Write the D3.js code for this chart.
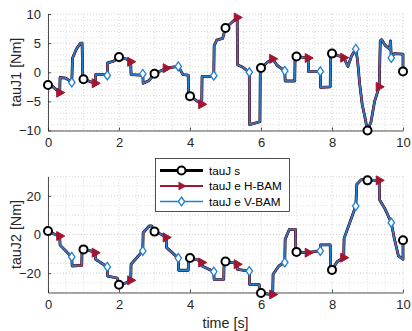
<!DOCTYPE html>
<html>
<head>
<meta charset="utf-8">
<script src="https://cdn.jsdelivr.net/npm/d3@7"></script>
<style>
  body { margin: 0; background: #fff; }
  svg { display: block; font-family: "Liberation Sans", Arial, sans-serif; }
</style>
</head>
<body>
<svg id="chart" width="412" height="331"></svg>
<script>
// joint 1 torque trace (time [s], torque [Nm])
const time1 = [0.00, 0.10, 0.33, 0.34, 0.50, 0.67, 0.69, 0.80, 0.92, 0.96, 0.98, 1.00, 1.33, 1.34, 1.60, 1.67, 1.68, 1.85, 2.00,
  2.20, 2.33, 2.34, 2.60, 2.67, 2.68, 2.85, 3.00, 3.33, 3.67, 3.80, 3.95, 3.96, 4.00, 4.33, 4.34, 4.55, 4.67, 4.68, 4.75, 4.92,
  5.00, 5.33, 5.34, 5.50, 5.67, 5.68, 5.97, 5.98, 6.00, 6.20, 6.33, 6.45, 6.67, 6.68, 6.95, 6.96, 7.00, 7.33, 7.34, 7.60, 7.67,
  7.68, 7.95, 7.96, 8.00, 8.20, 8.33, 8.45, 8.55, 8.67, 8.72, 8.78, 8.85, 8.93, 9.00, 9.10, 9.20, 9.33, 9.36, 9.40, 9.50, 9.62,
  9.65, 9.67, 9.75, 10.0, 10.0];
const tauJ1 = [-2.2, -2.3, -3.5, -0.9, -1.0, -1.75, 2.4, 4.0, 5.0, 5.0, -1.0, -1.2, -1.9, -0.4, -0.4, -0.55, 1.6, 1.9, 2.6,
  2.3, 1.8, -0.4, -0.5, -0.3, -1.9, -1.4, -0.25, 0.7, 1.0, -0.4, -0.5, -3.8, -4.1, -5.5, -0.7, -0.7, -0.6, 4.5, 5.5, 5.8,
  7.6, 9.4, 1.3, 0.8, 0.0, -9.0, -8.5, 0.8, 0.75, 1.8, 2.3, 1.2, 0.25, -1.5, -1.5, 2.7, 2.7, 2.45, 0.1, 0.1, 0.15,
  -2.6, -2.5, 3.2, 3.2, 2.8, 2.5, 1.0, 2.8, 4.0, 2.0, -2.0, -5.5, -7.8, -10.0, -8.5, -5.0, -2.5, 5.4, 5.6, 4.6, 4.0,
  5.4, 2.45, 3.2, 3.1, 0.15];

// joint 2 torque trace
const time2 = [0.00, 0.20, 0.33, 0.34, 0.67, 0.68, 0.95, 0.96, 1.00, 1.20, 1.33, 1.34, 1.67, 1.68, 1.95, 2.00, 2.20, 2.33, 2.34,
  2.67, 2.68, 2.85, 2.92, 3.00, 3.20, 3.33, 3.34, 3.67, 3.68, 3.95, 3.96, 4.00, 4.20, 4.33, 4.34, 4.67, 4.68, 4.95, 4.96, 5.00,
  5.20, 5.33, 5.34, 5.67, 5.68, 5.95, 5.97, 6.00, 6.20, 6.33, 6.34, 6.50, 6.67, 6.68, 6.80, 6.97, 6.98, 7.00, 7.20, 7.33, 7.50,
  7.67, 7.68, 7.95, 7.96, 8.00, 8.15, 8.33, 8.34, 8.67, 8.70, 8.83, 9.00, 9.33, 9.34, 9.50, 9.67, 9.75, 9.87, 10.0, 10.0];
const tauJ2 = [1.8, 0.0, -0.8, -5.5, -11.6, -16.3, -16.0, -7.5, -7.7, -8.5, -9.4, -12.8, -16.8, -21.5, -22.5, -26.0, -25.0, -23.7, -15.4,
  -8.5, 0.9, 4.4, 4.4, 1.5, 0.0, -1.5, -6.8, -12.2, -18.5, -18.5, -12.0, -12.2, -13.0, -14.5, -16.3, -19.2, -23.2, -23.2, -13.5, -14.0,
  -14.5, -15.4, -18.0, -18.9, -25.8, -26.0, -30.0, -30.3, -30.8, -31.0, -20.6, -16.3, -14.4, -2.5, 2.7, 2.7, -8.5, -9.0, -9.3, -9.4, -8.8,
  -8.5, -5.4, -5.4, -17.0, -18.3, -14.0, -12.0, -2.0, 14.7, 26.0, 28.5, 28.0, 28.0, 18.0, 13.0, 6.1, -1.6, -11.0, -12.8, -3.0];

// marker sample times
const markS = [0, 1, 2, 3, 4, 5, 6, 7, 8, 9, 10];
const markH = [0.33, 1.33, 2.33, 3.33, 4.33, 5.33, 6.33, 7.33, 8.33, 9.33];
const markV = [0.67, 1.67, 2.67, 3.67, 4.67, 5.67, 6.67, 7.67, 8.67, 9.67];

const seriesNames = ["tauJ s", "tauJ e H-BAM", "tauJ e V-BAM"];
const xTicks = [0, 2, 4, 6, 8, 10];
const yTicks1 = [-10, -5, 0, 5, 10];
const yTicks2 = [-20, 0, 20];

const colS = "#000000", colH = "#a2142f", colV = "#1f80d0";
const svg = d3.select("#chart");
svg.append("rect").attr("width", 412).attr("height", 331).attr("fill", "#fff");

const left = 48, right = 403;
const x = d3.scaleLinear().domain([0, 10]).range([left, right]);

function panel(top, bottom, time, vals, yDom, yTicks, yMinor, ylabel) {
  const y = d3.scaleLinear().domain(yDom).range([bottom, top]);
  const g = svg.append("g");

  // grid: minor + major, all dotted
  const xm = d3.range(0, 10.01, 0.5);
  const ym = d3.range(yDom[0], yDom[1] + 0.01, yMinor);
  g.selectAll(".gx").data(xm).join("line")
    .attr("x1", d => x(d)).attr("x2", d => x(d)).attr("y1", top).attr("y2", bottom)
    .attr("stroke", d => xTicks.includes(d) ? "#c4c4c4" : "#d6d6d6")
    .attr("stroke-width", 0.8).attr("stroke-dasharray", "1,2");
  g.selectAll(".gy").data(ym).join("line")
    .attr("x1", left).attr("x2", right).attr("y1", d => y(d)).attr("y2", d => y(d))
    .attr("stroke", d => yTicks.includes(d) ? "#c4c4c4" : "#d6d6d6")
    .attr("stroke-width", 0.8).attr("stroke-dasharray", "1,2");

  // axes
  const ax = g.append("g").attr("transform", `translate(0,${bottom})`)
    .call(d3.axisBottom(x).tickValues(xTicks).tickSizeInner(-3).tickSizeOuter(0).tickPadding(7));
  const ay = g.append("g").attr("transform", `translate(${left},0)`)
    .call(d3.axisLeft(y).tickValues(yTicks).tickSizeInner(-3).tickSizeOuter(0).tickPadding(7));
  [ax, ay].forEach(a => {
    a.select(".domain").attr("stroke", "#262626").attr("stroke-width", 0.8);
    a.selectAll(".tick line").attr("stroke", "#262626").attr("stroke-width", 0.8);
    a.selectAll("text").attr("fill", "#262626").style("font-size", "13px")
      .style("font-family", "'Liberation Sans', Arial, sans-serif");
  });

  g.append("text")
    .attr("transform", `translate(21,${(top + bottom) / 2}) rotate(-90)`)
    .attr("text-anchor", "middle").attr("fill", "#262626").style("font-size", "14.3px")
    .text(ylabel);

  const pts = time.map((t, i) => [t, vals[i]]);
  const line = d3.line().x(d => x(d[0])).y(d => y(d[1]));
  g.append("path").datum(pts).attr("d", line).attr("fill", "none").attr("stroke", colS).attr("stroke-width", 2.8).attr("stroke-linejoin", "round");
  g.append("path").datum(pts).attr("d", line).attr("fill", "none").attr("stroke", colH).attr("stroke-width", 2.2).attr("stroke-linejoin", "round");
  g.append("path").datum(pts).attr("d", line).attr("fill", "none").attr("stroke", colV).attr("stroke-width", 1.6).attr("stroke-linejoin", "round");

  // marker value = last sample at that time (end of a vertical step)
  const valAt = t => vals[time.findLastIndex(v => Math.abs(v - t) < 1e-6)];
  g.selectAll(".ms").data(markS).join("circle")
    .attr("cx", d => x(d)).attr("cy", d => y(valAt(d))).attr("r", 4)
    .attr("fill", "#fff").attr("stroke", colS).attr("stroke-width", 2);
  g.selectAll(".mh").data(markH).join("path")
    .attr("d", "M-3.5,-4.5L4.5,0L-3.5,4.5Z")
    .attr("transform", d => `translate(${x(d) + 0.5},${y(valAt(d))})`)
    .attr("fill", colH).attr("stroke", colH).attr("stroke-width", 1);
  g.selectAll(".mv").data(markV).join("path")
    .attr("d", "M0,-4.5L3.2,0L0,4.5L-3.2,0Z")
    .attr("transform", d => `translate(${x(d)},${y(valAt(d))})`)
    .attr("fill", "#fff").attr("stroke", colV).attr("stroke-width", 1.3);
}

panel(14, 130.5, time1, tauJ1, [-10, 10], yTicks1, 1, "tauJ1 [Nm]");
panel(176.5, 292.5, time2, tauJ2, [-30, 30], yTicks2, 5, "tauJ2 [Nm]");

svg.append("text").attr("x", (left + right) / 2).attr("y", 328)
  .attr("text-anchor", "middle").attr("fill", "#262626").style("font-size", "14.3px").text("time [s]");

// legend
const lg = svg.append("g");
lg.append("rect").attr("x", 155.5).attr("y", 158.5).attr("width", 134).attr("height", 53)
  .attr("fill", "#fff").attr("stroke", "#262626").attr("stroke-width", 0.8);
const rows = [170.5, 186, 201.5];
const rowStyle = [[colS, 3], [colH, 2.2], [colV, 1.6]];
seriesNames.forEach((name, i) => {
  const yy = rows[i];
  lg.append("line").attr("x1", 160).attr("x2", 203).attr("y1", yy).attr("y2", yy)
    .attr("stroke", rowStyle[i][0]).attr("stroke-width", rowStyle[i][1]);
  if (i === 0) lg.append("circle").attr("cx", 181.5).attr("cy", yy).attr("r", 4).attr("fill", "#fff").attr("stroke", colS).attr("stroke-width", 2);
  if (i === 1) lg.append("path").attr("d", "M-3.5,-4.5L4.5,0L-3.5,4.5Z").attr("transform", `translate(182,${yy})`).attr("fill", colH);
  if (i === 2) lg.append("path").attr("d", "M0,-4.5L3.2,0L0,4.5L-3.2,0Z").attr("transform", `translate(181.5,${yy})`)
    .attr("fill", "#fff").attr("stroke", colV).attr("stroke-width", 1.3);
  lg.append("text").attr("x", 209).attr("y", yy + 4.2).attr("fill", "#000").style("font-size", "11.7px").text(name);
});
</script>
</body>
</html>
